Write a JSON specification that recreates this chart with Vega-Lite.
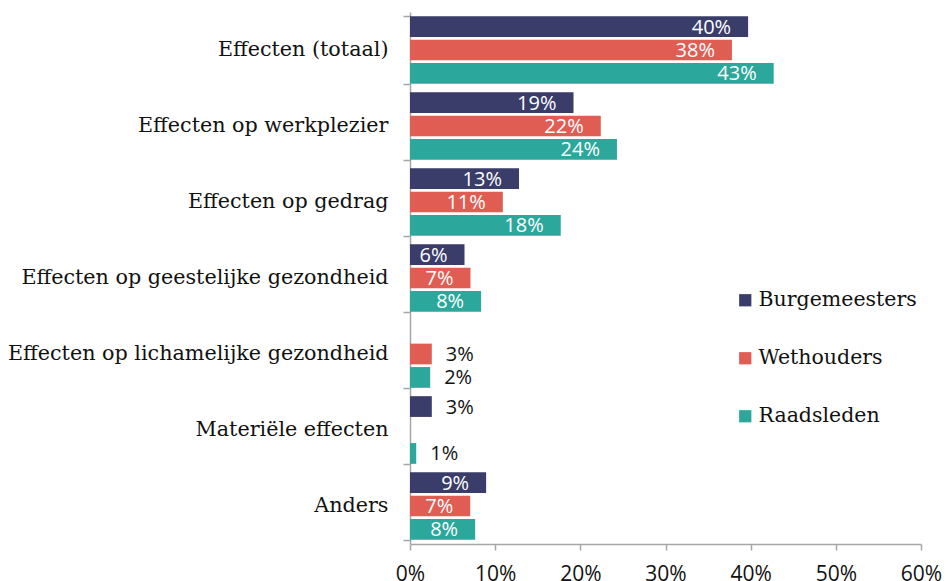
{
  "$schema": "https://vega.github.io/schema/vega-lite/v6.json",
  "width": 511,
  "height": 532,
  "autosize": {"type": "none"},
  "padding": {"left": 410, "top": 12, "right": 27, "bottom": 37},
  "config": {"view": {"stroke": null}},
  "data": {
    "values": [
      {"categorie": "Effecten (totaal)", "groep": "Burgemeesters", "waarde": 0.397},
      {"categorie": "Effecten (totaal)", "groep": "Wethouders", "waarde": 0.378},
      {"categorie": "Effecten (totaal)", "groep": "Raadsleden", "waarde": 0.427},
      {"categorie": "Effecten op werkplezier", "groep": "Burgemeesters", "waarde": 0.192},
      {"categorie": "Effecten op werkplezier", "groep": "Wethouders", "waarde": 0.224},
      {"categorie": "Effecten op werkplezier", "groep": "Raadsleden", "waarde": 0.243},
      {"categorie": "Effecten op gedrag", "groep": "Burgemeesters", "waarde": 0.128},
      {"categorie": "Effecten op gedrag", "groep": "Wethouders", "waarde": 0.109},
      {"categorie": "Effecten op gedrag", "groep": "Raadsleden", "waarde": 0.177},
      {"categorie": "Effecten op geestelijke gezondheid", "groep": "Burgemeesters", "waarde": 0.064},
      {"categorie": "Effecten op geestelijke gezondheid", "groep": "Wethouders", "waarde": 0.071},
      {"categorie": "Effecten op geestelijke gezondheid", "groep": "Raadsleden", "waarde": 0.0835},
      {"categorie": "Effecten op lichamelijke gezondheid", "groep": "Wethouders", "waarde": 0.0256},
      {"categorie": "Effecten op lichamelijke gezondheid", "groep": "Raadsleden", "waarde": 0.0237},
      {"categorie": "Materiële effecten", "groep": "Burgemeesters", "waarde": 0.0256},
      {"categorie": "Materiële effecten", "groep": "Raadsleden", "waarde": 0.0073},
      {"categorie": "Anders", "groep": "Burgemeesters", "waarde": 0.0894},
      {"categorie": "Anders", "groep": "Wethouders", "waarde": 0.0707},
      {"categorie": "Anders", "groep": "Raadsleden", "waarde": 0.0765}
    ]
  },
  "encoding": {
    "y": {
      "field": "categorie",
      "type": "nominal",
      "sort": ["Effecten (totaal)", "Effecten op werkplezier", "Effecten op gedrag", "Effecten op geestelijke gezondheid", "Effecten op lichamelijke gezondheid", "Materiële effecten", "Anders"],
      "scale": {"paddingInner": 0.11, "paddingOuter": 0.055},
      "axis": {
        "title": null,
        "tickBand": "extent",
        "tickSize": 7,
        "tickColor": "#a6a6a6",
        "tickWidth": 1.5,
        "domainColor": "#a6a6a6",
        "domainWidth": 1.5,
        "labelFont": "DejaVu Serif",
        "labelFontSize": 20.7,
        "labelColor": "#111111",
        "labelPadding": 15,
        "labelOffset": -1,
        "labelLimit": 420
      }
    },
    "yOffset": {
      "field": "groep",
      "sort": ["Burgemeesters", "Wethouders", "Raadsleden"],
      "scale": {"paddingInner": 0.115, "paddingOuter": 0}
    },
    "x": {
      "field": "waarde",
      "type": "quantitative",
      "scale": {"domain": [0, 0.6]},
      "axis": {
        "title": null,
        "format": ".0%",
        "values": [0, 0.1, 0.2, 0.3, 0.4, 0.5, 0.6],
        "grid": false,
        "tickSize": 6,
        "tickColor": "#a6a6a6",
        "tickWidth": 1.5,
        "domainColor": "#a6a6a6",
        "domainWidth": 1.5,
        "labelFont": "Open Sans",
        "labelFontSize": 21,
        "labelColor": "#111111",
        "labelPadding": 13,
        "labelFlush": false,
        "labelOverlap": false,
        "labelBound": false
      }
    }
  },
  "layer": [
    {
      "mark": {"type": "bar"},
      "encoding": {
        "color": {
          "field": "groep",
          "type": "nominal",
          "sort": ["Burgemeesters", "Wethouders", "Raadsleden"],
          "scale": {"domain": ["Burgemeesters", "Wethouders", "Raadsleden"], "range": ["#3a3c6a", "#e05d54", "#2ba89b"]},
          "legend": {
            "title": null,
            "orient": "none",
            "legendX": 325,
            "legendY": 278,
            "symbolType": "square",
            "symbolSize": 150,
            "symbolStrokeWidth": 0,
            "symbolOpacity": 1,
            "labelFont": "DejaVu Serif",
            "labelFontSize": 20.5,
            "labelColor": "#111111",
            "labelOffset": 3,
            "rowPadding": 37
          }
        }
      }
    },
    {
      "transform": [{"filter": "datum.waarde >= 0.05"}],
      "mark": {"type": "text", "align": "right", "baseline": "middle", "dx": -17, "dy": 1, "font": "Open Sans", "fontSize": 20, "color": "white"},
      "encoding": {"text": {"field": "waarde", "type": "quantitative", "format": ".0%"}}
    },
    {
      "transform": [{"filter": "datum.waarde < 0.05"}],
      "mark": {"type": "text", "align": "left", "baseline": "middle", "dx": 14, "dy": 1, "font": "Open Sans", "fontSize": 20, "color": "#111111"},
      "encoding": {"text": {"field": "waarde", "type": "quantitative", "format": ".0%"}}
    }
  ]
}
